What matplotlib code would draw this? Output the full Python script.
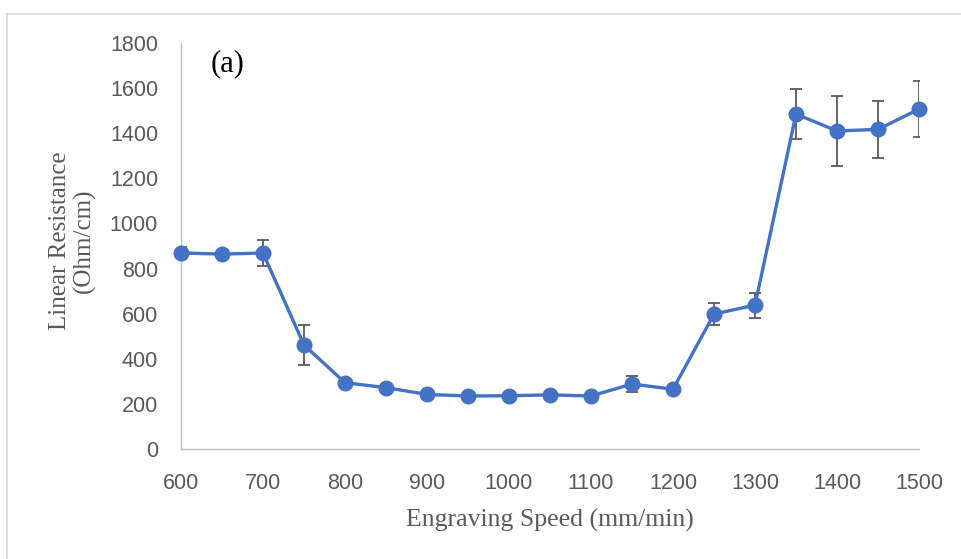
import matplotlib
matplotlib.use("Agg")
import matplotlib.pyplot as plt
from matplotlib.lines import Line2D

speed = [600, 650, 700, 750, 800, 850, 900, 950, 1000, 1050, 1100, 1150,
         1200, 1250, 1300, 1350, 1400, 1450, 1500]
resistance = [869, 864, 869, 461, 294, 272, 242, 235, 236, 240, 235, 288,
              265, 598, 638, 1485, 1410, 1417, 1507]
error = [25, 10, 57, 90, 10, 10, 10, 10, 10, 10, 10, 35,
         10, 50, 55, 112, 155, 125, 125]
x_ticks = [600, 700, 800, 900, 1000, 1100, 1200, 1300, 1400, 1500]
y_ticks = [0, 200, 400, 600, 800, 1000, 1200, 1400, 1600, 1800]

W, H = 962, 559
fig = plt.figure(figsize=(W / 100, H / 100), dpi=100)
ax = fig.add_axes([181 / W, 1 - 449 / H, (919 - 181) / W, (449 - 43) / H])

ax.errorbar(speed, resistance, yerr=error, fmt="none", ecolor="#595959",
            elinewidth=1.3, capsize=4.5, capthick=1.3, zorder=2)
ax.plot(speed, resistance, color="#4472C4", lw=2.4, marker="o",
        markersize=10.5, markerfacecolor="#4472C4", markeredgecolor="#4472C4",
        zorder=3, clip_on=False)

ax.set_xlim(600, 1500)
ax.set_ylim(0, 1800)
ax.set_xticks(x_ticks)
ax.set_yticks(y_ticks)
for s in ["top", "right"]:
    ax.spines[s].set_visible(False)
for s in ["left", "bottom"]:
    ax.spines[s].set_color("#BFBFBF")
    ax.spines[s].set_linewidth(1.0)
ax.tick_params(length=0, labelsize=15.5, labelcolor="#595959")
for lab in ax.get_xticklabels() + ax.get_yticklabels():
    lab.set_fontfamily("Liberation Sans")
ax.tick_params(axis="y", pad=16.5)
ax.tick_params(axis="x", pad=17)

serif = "Liberation Serif"
fig.text(550 / W, 1 - 520 / H, "Engraving Speed (mm/min)", ha="center",
         va="center", fontsize=18.5, family=serif, color="#595959")
fig.text(72 / W, 1 - 241 / H, "Linear Resistance\n(Ohm/cm)", ha="center",
         va="center", rotation=90, fontsize=18, family=serif,
         color="#595959", linespacing=1.1, multialignment="center")
fig.text(228 / W, 1 - 64 / H, "(a)", ha="center", va="center",
         fontsize=22, family=serif, color="black")

# outer chart border
fig.add_artist(Line2D([7.5 / W, 1], [1 - 13.5 / H] * 2, color="#D9D9D9",
                      lw=1.2, transform=fig.transFigure))
fig.add_artist(Line2D([7.5 / W] * 2, [0, 1 - 13.5 / H], color="#D9D9D9",
                      lw=1.2, transform=fig.transFigure))

fig.savefig("out.png", dpi=100)
